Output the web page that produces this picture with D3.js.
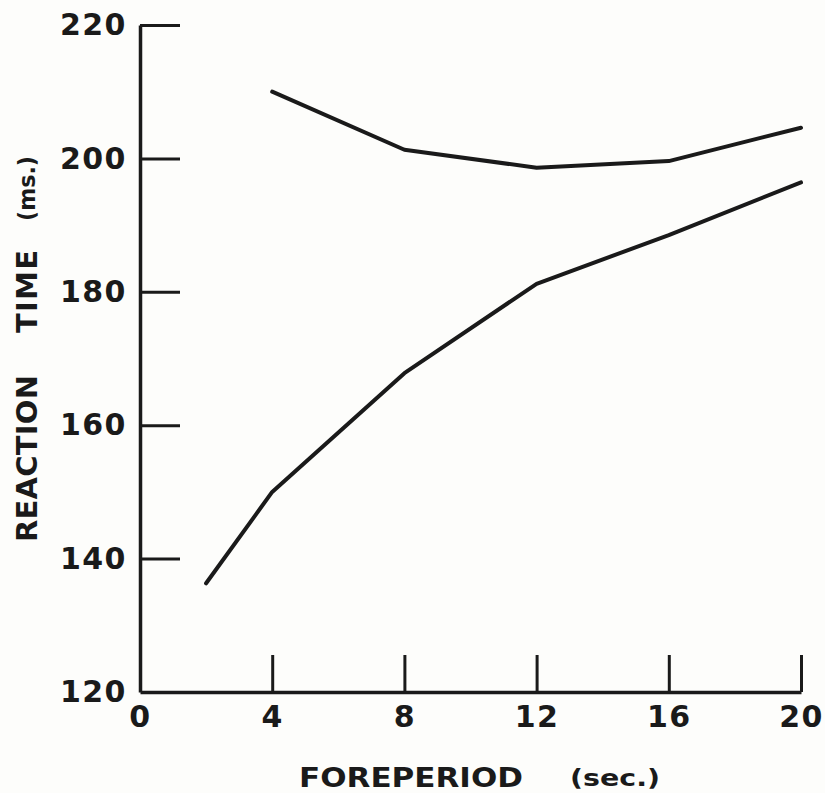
<!DOCTYPE html>
<html>
<head>
<meta charset="utf-8">
<script src="https://cdn.jsdelivr.net/npm/d3@7/dist/d3.min.js"></script>
<style>
  html, body { margin: 0; padding: 0; background: #fdfdfb; }
  svg { display: block; }
  text { font-family: "DejaVu Sans", sans-serif; font-weight: bold; fill: #1a1a1a; }
</style>
</head>
<body>
<svg id="chart" width="825" height="793"></svg>
<script>
// Data
const xTicks = [0, 4, 8, 12, 16, 20];
const yTicks = [120, 140, 160, 180, 200, 220];
const upperX = [4, 8, 12, 16, 20];
const upperRT = [210.0, 201.3, 198.6, 199.6, 204.6];
const lowerX = [2, 4, 8, 12, 16, 20];
const lowerRT = [136.3, 150.0, 167.8, 181.2, 188.5, 196.4];
const xTitle = "FOREPERIOD";
const xUnit = "(sec.)";
const yTitleA = "REACTION";
const yTitleB = "TIME";
const yUnit = "(ms.)";

const svg = d3.select("#chart");
const ink = "#1a1a1a";

const x = d3.scaleLinear().domain([0, 20]).range([140, 801]);
const y = d3.scaleLinear().domain([120, 220]).range([692, 25]);

// Y axis (ticks pointing into plot)
const yAxis = svg.append("g")
  .attr("transform", `translate(${x(0)},0)`)
  .call(d3.axisLeft(y).tickValues(yTicks).tickSizeInner(-40).tickSizeOuter(0).tickPadding(13).tickFormat(d3.format("d")));
yAxis.select(".domain").attr("stroke", ink).attr("stroke-width", 3.5);
yAxis.selectAll(".tick line").attr("stroke", ink).attr("stroke-width", 3)
  .filter(d => d === 120).remove();
yAxis.selectAll(".tick text").attr("font-size", 30).attr("fill", ink)
  .attr("letter-spacing", 1.5)
  .attr("font-family", "DejaVu Sans").attr("font-weight", "bold");

// X axis (ticks pointing up)
const xAxis = svg.append("g")
  .attr("transform", `translate(0,${y(120)})`)
  .call(d3.axisBottom(x).tickValues(xTicks).tickSizeInner(-37).tickSizeOuter(0).tickPadding(14).tickFormat(d3.format("d")));
xAxis.select(".domain").attr("stroke", ink).attr("stroke-width", 3.5);
xAxis.selectAll(".tick line").attr("stroke", ink).attr("stroke-width", 3)
  .filter(d => d === 0).remove();
xAxis.selectAll(".tick text").attr("font-size", 30).attr("fill", ink)
  .attr("letter-spacing", 1.5)
  .attr("font-family", "DejaVu Sans").attr("font-weight", "bold");

// Lines
const line = d3.line().x(d => x(d[0])).y(d => y(d[1]));
const upper = d3.zip(upperX, upperRT);
const lower = d3.zip(lowerX, lowerRT);
[upper, lower].forEach(s => {
  svg.append("path").datum(s)
    .attr("d", line)
    .attr("fill", "none")
    .attr("stroke", ink)
    .attr("stroke-width", 4)
    .attr("stroke-linejoin", "round")
    .attr("stroke-linecap", "round");
});

// X title
svg.append("text").attr("x", 299).attr("y", 787)
  .attr("font-size", 27).attr("textLength", 224).attr("lengthAdjust", "spacingAndGlyphs")
  .text(xTitle);
svg.append("text").attr("x", 570).attr("y", 786)
  .attr("font-size", 23).attr("textLength", 90).attr("lengthAdjust", "spacingAndGlyphs")
  .text(xUnit);

// Y title
svg.append("text")
  .attr("transform", "translate(37,542) rotate(-90)")
  .attr("font-size", 29).attr("textLength", 167).attr("lengthAdjust", "spacing")
  .text(yTitleA);
svg.append("text")
  .attr("transform", "translate(37,333) rotate(-90)")
  .attr("font-size", 29).attr("textLength", 83).attr("lengthAdjust", "spacing")
  .text(yTitleB);
svg.append("text")
  .attr("transform", "translate(35,221) rotate(-90)")
  .attr("font-size", 23).attr("textLength", 65).attr("lengthAdjust", "spacingAndGlyphs")
  .text(yUnit);
</script>
</body>
</html>
